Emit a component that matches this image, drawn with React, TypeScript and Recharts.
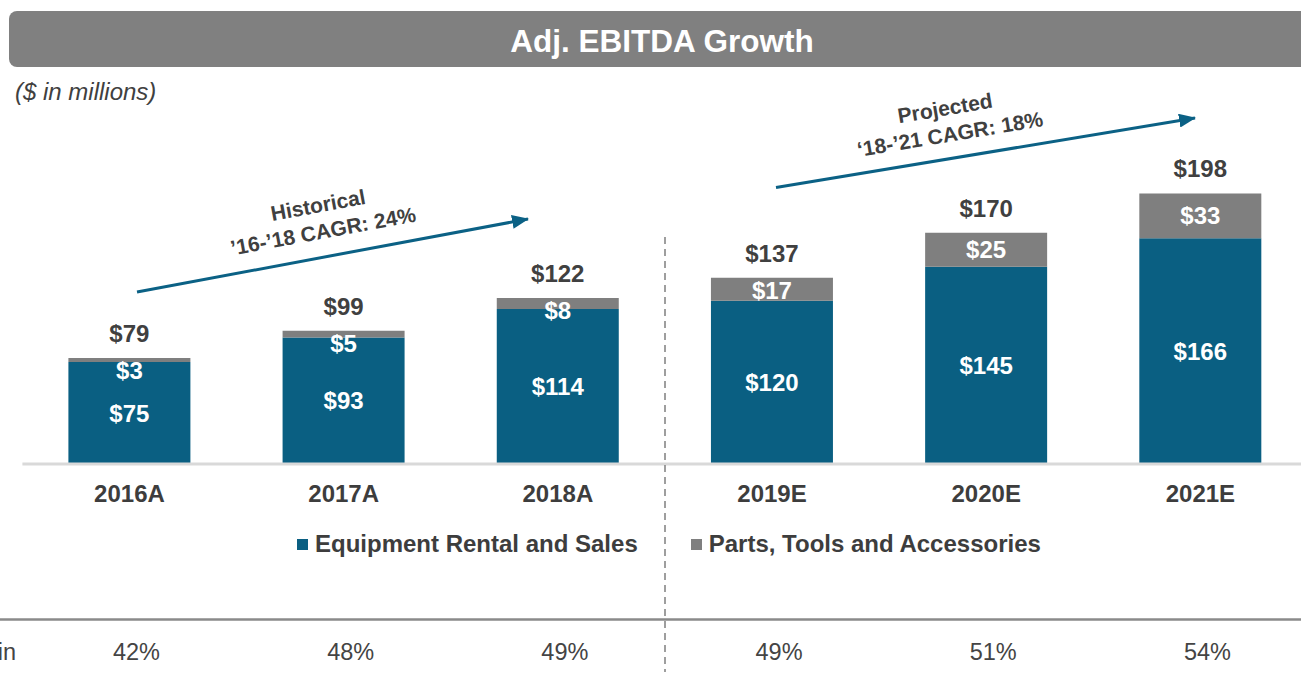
import React from 'react';
import { BarChart, Bar, XAxis, YAxis, LabelList, Legend } from 'recharts';

const categories = ['2016A', '2017A', '2018A', '2019E', '2020E', '2021E'];
const equipment = [75, 93, 114, 120, 145, 166];
const parts = [3, 5, 8, 17, 25, 33];
const totals = [79, 99, 122, 137, 170, 198];
const margins = ['42%', '48%', '49%', '49%', '51%', '54%'];

const data = categories.map((c, i) => ({
  category: c,
  equipment: equipment[i],
  parts: parts[i],
  total: totals[i],
  margin: margins[i],
}));

const FONT = '"Liberation Sans", Arial, Helvetica, sans-serif';
const BLUE = '#0a5f82';
const GRAY = '#7f7f7f';
const DARK = '#3d3d3d';

const Tick = (props: any) => {
  const { x, y, payload, index } = props;
  return (
    <g>
      <text x={x} y={y + 38} textAnchor="middle" fontFamily={FONT} fontWeight="bold" fontSize={24} fill={DARK}>
        {payload.value}
      </text>
      <text x={x + 7} y={y + 196} textAnchor="middle" fontFamily={FONT} fontSize={23.5} fill="#444">
        {margins[index]}
      </text>
    </g>
  );
};

const TotalLabel = (props: any) => {
  const { x, y, width, value } = props;
  return (
    <text x={x + width / 2} y={y - 16} textAnchor="middle" fontFamily={FONT} fontWeight="bold" fontSize={24} fill="#404040">
      ${value}
    </text>
  );
};

const PartsLabel = (props: any) => {
  const { x, y, width, height, value } = props;
  const base = Math.max(y + height / 2 + 8.5, y + 21);
  return (
    <text x={x + width / 2} y={base} textAnchor="middle" fontFamily={FONT} fontWeight="bold" fontSize={24} fill="#ffffff">
      ${value}
    </text>
  );
};

const EquipLabel = (props: any) => {
  const { x, y, width, height, value } = props;
  return (
    <text x={x + width / 2} y={y + height / 2 + 8.5} textAnchor="middle" fontFamily={FONT} fontWeight="bold" fontSize={24} fill="#ffffff">
      ${value}
    </text>
  );
};

const LegendContent = (props: any) => {
  const { payload } = props;
  return (
    <div style={{ display: 'flex', alignItems: 'center', paddingLeft: 297, height: 28 }}>
      {(payload || []).map((p: any, i: number) => (
        <div key={i} style={{ display: 'flex', alignItems: 'center', marginRight: 53 }}>
          <span style={{ display: 'inline-block', width: 11, height: 11, background: p.color, marginRight: 7 }} />
          <span style={{ fontFamily: FONT, fontWeight: 'bold', fontSize: 24, color: DARK, lineHeight: '28px', whiteSpace: 'nowrap' }}>
            {p.value}
          </span>
        </div>
      ))}
    </div>
  );
};

export default function App() {
  return (
    <div style={{ position: 'absolute', left: 0, top: 0, width: 1301, height: 676, overflow: 'hidden', background: '#fff' }}>
      <div style={{ position: 'absolute', left: 0, top: 0 }}>
        <BarChart
          width={1310}
          height={676}
          data={data}
          margin={{ top: 120, right: 2.5, bottom: 182, left: 22.4 }}
          barSize={122}
        >
          <XAxis
            dataKey="category"
            interval={0}
            height={30}
            tickSize={0}
            tickMargin={0}
            tickLine={false}
            axisLine={{ stroke: '#d9d9d9', strokeWidth: 3 }}
            tick={<Tick />}
          />
          <YAxis hide domain={[0, 253]} />
          <Legend
            verticalAlign="middle"
            align="center"
            layout="horizontal"
            content={<LegendContent />}
            wrapperStyle={{ top: 530, left: 0, width: 1310 }}
          />
          <Bar dataKey="equipment" name="Equipment Rental and Sales" stackId="a" fill={BLUE} isAnimationActive={false}>
            <LabelList dataKey="equipment" content={<EquipLabel />} />
          </Bar>
          <Bar dataKey="parts" name="Parts, Tools and Accessories" stackId="a" fill={GRAY} isAnimationActive={false}>
            <LabelList dataKey="parts" content={<PartsLabel />} />
            <LabelList dataKey="total" content={<TotalLabel />} />
          </Bar>
        </BarChart>
      </div>
      <svg
        width={1301}
        height={676}
        style={{ position: 'absolute', left: 0, top: 0, pointerEvents: 'none' }}
      >
        <defs>
          <marker id="ah" markerUnits="userSpaceOnUse" markerWidth={18} markerHeight={14} refX={16} refY={7} orient="auto">
            <path d="M0,0 L17,7 L0,14 z" fill="#0b6185" />
          </marker>
        </defs>
        <rect x={9} y={11} width={1320} height={56} rx={8} ry={8} fill="#808080" />
        <text x={662} y={52} textAnchor="middle" fontFamily={FONT} fontWeight="bold" fontSize={31.5} fill="#ffffff">
          Adj. EBITDA Growth
        </text>
        <text x={15} y={100} fontFamily={FONT} fontStyle="italic" fontSize={24} fill="#404040">
          ($ in millions)
        </text>

        <line x1={137} y1={292} x2={528} y2={219} stroke="#0b6185" strokeWidth={3} markerEnd="url(#ah)" />
        <g transform="rotate(-10.5 318 205)">
          <text x={318} y={212.5} textAnchor="middle" fontFamily={FONT} fontWeight="bold" fontSize={21} fill="#404040">
            Historical
          </text>
        </g>
        <g transform="rotate(-10.5 323 231)">
          <text x={323} y={238.5} textAnchor="middle" fontFamily={FONT} fontWeight="bold" fontSize={21} fill="#404040">
            ’16-’18 CAGR: 24%
          </text>
        </g>

        <line x1={776} y1={187.5} x2={1195} y2={118} stroke="#0b6185" strokeWidth={3} markerEnd="url(#ah)" />
        <g transform="rotate(-9.5 945 108)">
          <text x={945} y={115.5} textAnchor="middle" fontFamily={FONT} fontWeight="bold" fontSize={21} fill="#404040">
            Projected
          </text>
        </g>
        <g transform="rotate(-9.5 950 134)">
          <text x={950} y={141.5} textAnchor="middle" fontFamily={FONT} fontWeight="bold" fontSize={21} fill="#404040">
            ‘18-’21 CAGR: 18%
          </text>
        </g>

        <line x1={665} y1={237} x2={665} y2={672} stroke="#7f7f7f" strokeWidth={1.5} strokeDasharray="7 5" />
        <line x1={0} y1={619.5} x2={1301} y2={619.5} stroke="#8a8a8a" strokeWidth={2.5} />
        <text x={16} y={660} textAnchor="end" fontFamily={FONT} fontSize={23.5} fill="#444">
          Adj. EBITDA Margin
        </text>
      </svg>
    </div>
  );
}
